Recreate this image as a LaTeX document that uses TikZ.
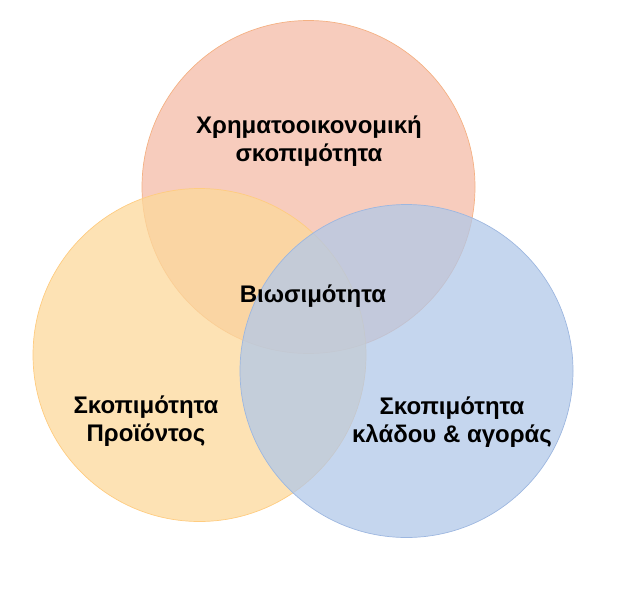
\documentclass[tikz,border=0pt]{standalone}
\usepackage{fontspec}
\setmainfont{Liberation Sans}
\usepackage{tikz}
\usetikzlibrary{positioning}
\definecolor{finfill}{HTML}{F4BBA7}
\definecolor{findraw}{HTML}{F4B183}
\definecolor{prodfill}{HTML}{FCD89B}
\definecolor{proddraw}{HTML}{FFCC80}
\definecolor{mktfill}{HTML}{B2C8E8}
\definecolor{mktdraw}{HTML}{9DB7E0}
\tikzstyle{ring} = [circle, minimum size = 333pt, inner sep = 0pt, fill opacity = 0.75, line width = 0.7pt]
\tikzstyle{label} = [align = center, font = \bfseries\fontsize{24}{28}\selectfont, text = black]

\begin{document}
\begin{tikzpicture}[x=1pt, y=-1pt]
			\useasboundingbox (0,0) rectangle (623,600);
			\node [ring, fill=finfill, draw=findraw] (fin) at (308.5, 187) {};
			\node [ring, fill=prodfill, draw=proddraw] (prod) at (199.5, 355) {};
			\node [ring, fill=mktfill, draw=mktdraw] (mkt) at (406.5, 371) {};

			\node [label] (fintext) at (309, 141) {Χρηματοοικονομική\\σκοπιμότητα};
			\node [label] (core) at (313, 296) {Βιωσιμότητα};
			\node [label] (prodtext) at (146, 421) {Σκοπιμότητα\\Προϊόντος};
			\node [label] (mkttext) at (452, 422) {Σκοπιμότητα\\κλάδου \& αγοράς};
		\end{tikzpicture}
\end{document}
